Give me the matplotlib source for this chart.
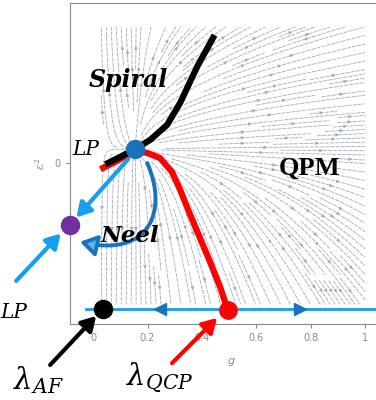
import numpy as np
import matplotlib
matplotlib.use('Agg')
import matplotlib.pyplot as plt
from matplotlib.patches import FancyArrowPatch
from matplotlib.path import Path

# fixed points (g, eps^2)
lp_pt = (0.154, 0.051)
neel_pt = (-0.085, -0.228)
af_pt = (0.037, -0.537)
qcp_pt = (0.496, -0.540)
base_eps = -0.537

# separatrices
black_g = [0.055, 0.099, 0.162, 0.210, 0.272, 0.320, 0.382, 0.441]
black_e = [0.000, 0.022, 0.055, 0.085, 0.140, 0.221, 0.353, 0.460]
red_g = [0.037, 0.081, 0.154, 0.199, 0.246, 0.290, 0.320, 0.357, 0.393, 0.430, 0.467, 0.496]
red_e = [-0.018, 0.004, 0.044, 0.037, 0.018, -0.033, -0.099, -0.191, -0.276, -0.364, -0.456, -0.544]

xticks = [0, 0.2, 0.4, 0.6, 0.8, 1]
xticklabels = ['0', '0.2', '0.4', '0.6', '0.8', '1']

LBLUE = '#14a0ec'
DBLUE = '#1a72bb'
GRAY = '#8a8a8a'

plt.rcParams['mathtext.fontset'] = 'dejavuserif'

fig = plt.figure(figsize=(3.76, 4.0), dpi=100)
ax = fig.add_axes([70 / 376, 76 / 400, 322.3 / 376, 321 / 400])
ax.set_xlim(-0.085, 1.1)
ax.set_ylim(-0.592, 0.588)

# flow field around the LP point
G, E = np.meshgrid(np.linspace(0.03, 1.0, 80), np.linspace(-0.52, 0.50, 80))
x = G - lp_pt[0]
y = E - lp_pt[1]
k = 0.5 + 1.5 / (1 + np.exp(-y / 0.05))
u = k * x / (1 + np.exp(-x / 0.04))
v = y
strm = ax.streamplot(G, E, u, v, density=(1.8, 2.2), color='#a3abbd', linewidth=0.6,
                     arrowsize=0.45, zorder=1)
strm.lines.set_linestyle((0, (5, 1.2)))
strm.arrows.set_color('#5c6478')

# bottom invariant line
ax.plot([-0.026, 1.1], [base_eps, base_eps], color=LBLUE, lw=2, zorder=3, clip_on=False)
ax.plot([0.246], [base_eps], marker='<', ms=8, color=DBLUE, zorder=4)
ax.plot([0.761], [base_eps], marker='>', ms=8, color=DBLUE, zorder=4)

ax.plot(red_g, red_e, color='red', lw=4.5, solid_joinstyle='round', zorder=5)
ax.plot(black_g, black_e, color='black', lw=4.5, solid_joinstyle='round', zorder=6)

# curved arrow LP -> Neel
verts = [(0.199, 0.0), (0.276, -0.173), (0.210, -0.349), (-0.048, -0.290)]
arc = FancyArrowPatch(path=Path(verts, [Path.MOVETO, Path.CURVE4, Path.CURVE4, Path.CURVE4]),
                      arrowstyle='-|>,head_length=0.7,head_width=0.45', mutation_scale=14,
                      lw=2.8, edgecolor=DBLUE, facecolor='#5ab8ee', zorder=7, clip_on=False)
ax.add_patch(arc)

arrow = dict(arrowstyle='-|>,head_length=0.6,head_width=0.35', lw=3, mutation_scale=14)
ax.annotate('', xy=(-0.068, -0.208), xytext=(0.136, 0.022),
            arrowprops=dict(color=LBLUE, **arrow), annotation_clip=False, zorder=8)
ax.annotate('', xy=(-0.112, -0.252), xytext=(-0.290, -0.441),
            arrowprops=dict(color=LBLUE, **arrow), annotation_clip=False, zorder=8)
ax.annotate('', xy=(0.018, -0.555), xytext=(-0.165, -0.750),
            arrowprops=dict(color='black', **arrow), annotation_clip=False, zorder=8)
ax.annotate('', xy=(0.463, -0.5625), xytext=(0.283, -0.743),
            arrowprops=dict(color='red', **arrow), annotation_clip=False, zorder=8)

ax.plot(*lp_pt, 'o', ms=13, color=DBLUE, zorder=9)
ax.plot(*neel_pt, 'o', ms=13, color='#7030a0', zorder=9, clip_on=False)
ax.plot(*af_pt, 'o', ms=13, color='black', zorder=9)
ax.plot(*qcp_pt, 'o', ms=12.5, color='red', zorder=9)

serif = 'DejaVu Serif'
ax.text(0.129, 0.305, 'Spiral', family=serif, style='italic', weight='bold',
        fontsize=17, ha='center', va='center', zorder=10)
ax.text(0.135, -0.268, 'Neel', family=serif, style='italic', weight='bold',
        fontsize=16.5, ha='center', va='center', zorder=10)
ax.text(0.794, -0.018, 'QPM', family='Liberation Serif', weight='bold',
        fontsize=19, ha='center', va='center', zorder=10)
ax.text(-0.026, 0.048, 'LP', family=serif, style='italic', fontsize=14.5,
        ha='center', va='center', zorder=10, clip_on=False)
ax.text(-0.342, -0.548, 'LP', family=serif, style='italic', fontsize=14.5,
        ha='left', va='center', clip_on=False)
ax.text(-0.202, -0.798, r'$\lambda_{AF}$', fontsize=21, ha='center', va='center', clip_on=False)
ax.text(0.246, -0.790, r'$\lambda_{QCP}$', fontsize=21, ha='center', va='center', clip_on=False)

ax.set_xticks(xticks)
ax.set_xticklabels(xticklabels)
ax.set_yticks([0])
ax.set_yticklabels(['0'])
ax.tick_params(colors=GRAY, labelsize=7, length=3, width=0.8)
for sp in ax.spines.values():
    sp.set_color(GRAY)
ax.set_xlabel('g', style='italic', color=GRAY, fontsize=8, labelpad=9)
ax.set_ylabel(r'$\epsilon^2$', color=GRAY, fontsize=8, labelpad=6)

fig.savefig('out.png', dpi=100)
